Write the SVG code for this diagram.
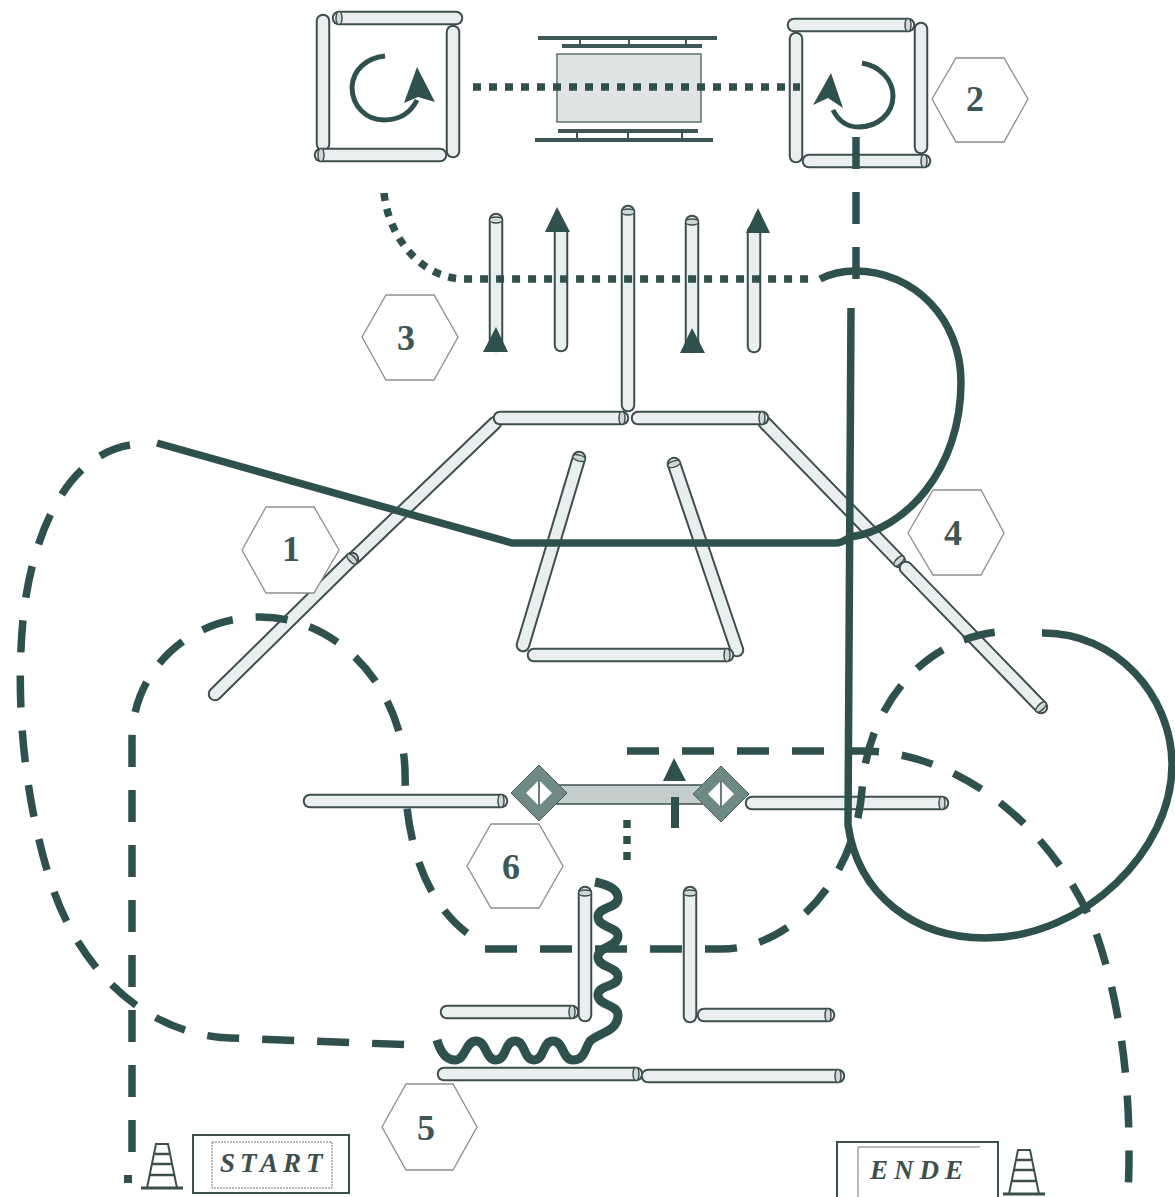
<svg xmlns="http://www.w3.org/2000/svg" width="1175" height="1197" viewBox="0 0 1175 1197">
<style>
.o{stroke:#3c4f4d;stroke-width:14.500;stroke-linecap:round;fill:none}
.i{stroke:#e9efee;stroke-width:10.500;stroke-linecap:round;fill:none;marker-end:url(#cap)}
.c{fill:none;stroke:#2e514e;stroke-width:7.500}
.d{stroke-dasharray:32 23}
.p{stroke-dasharray:8 8}
.a{fill:#2e514e}
.h{fill:#fff;stroke:#8a8f8e;stroke-width:1.300}
.n{font:bold 36px "Liberation Serif",serif;fill:#3c5755;text-anchor:middle}
.l{font:italic bold 27px "Liberation Serif",serif;fill:#3c4f4d}
.k{fill:none;stroke:#3c4f4d;stroke-width:2}
.b{stroke:#3c5755;stroke-width:4;fill:none}
.ar{fill:none;stroke:#2e514e;stroke-width:5}
</style>
<defs>
<marker id="cap" markerUnits="userSpaceOnUse" markerWidth="12" markerHeight="18" refX="6" refY="9" orient="auto" overflow="visible"><ellipse cx="6" cy="9" rx="3" ry="6.500" fill="#cfd8d6" stroke="#3c4f4d" stroke-width="1.500"/></marker>
<g id="cone" class="k"><path stroke-width="3" d="M-21 22H21"/><path d="M-15 22L-6 -22H6L15 22"/><path stroke-width="2.500" d="M-7 -12H7M-10 -2H10M-12 9H12"/></g>
<g id="dia"><path d="M0-28L28 0L0 28L-28 0Z" fill="#6f8a85" stroke="#4a5f5c"/><path d="M0-13L13 0L0 13L-13 0Z" fill="#fff"/><path d="M0-13V13" stroke="#3c4f4d" stroke-width="1.500"/></g>
</defs>
<rect width="1175" height="1197" fill="#fff"/>
<g id="station-a">
<line class="o" x1="323" y1="144" x2="323" y2="21"/><line class="i" style="marker-end:none" x1="323" y1="144" x2="323" y2="21"/>
<line class="o" x1="453" y1="151" x2="453" y2="32"/><line class="i" style="marker-end:none" x1="453" y1="151" x2="453" y2="32"/>
<line class="o" x1="456" y1="18" x2="339" y2="18"/><line class="i" x1="456" y1="18" x2="339" y2="18"/>
<line class="o" x1="440" y1="155" x2="321" y2="155"/><line class="i" x1="440" y1="155" x2="321" y2="155"/>
<path class="ar" d="M385 56C366 58 353 70 352 87C352 106 366 120 384 120C398 120 410 114 417 100"/>
<path class="a" d="M417 67L435 102L418 97L404 103Z"/>
</g>
<g id="station-b">
<line class="o" x1="796" y1="156" x2="796" y2="39"/><line class="i" style="marker-end:none" x1="796" y1="156" x2="796" y2="39"/>
<line class="o" x1="921" y1="147" x2="921" y2="29"/><line class="i" style="marker-end:none" x1="921" y1="147" x2="921" y2="29"/>
<line class="o" x1="794" y1="25" x2="908" y2="25"/><line class="i" x1="794" y1="25" x2="908" y2="25"/>
<line class="o" x1="809" y1="161" x2="924" y2="161"/><line class="i" x1="809" y1="161" x2="924" y2="161"/>
<path class="ar" d="M862 63C880 66 893 80 893 96C893 114 877 127 859 127C847 127 838 120 833 110"/>
<path class="a" d="M831 73L843 108L828 98L813 105Z"/>
</g>
<g id="table">
<rect x="557" y="54" width="144" height="68" fill="#e0e3e3" stroke="#5f6f6d" stroke-width="1.500"/>
<path class="b" d="M538 38H717M562 46H702M558 131H698M535 140H713"/>
<path d="M580 38V46M629 38V46M686 38V46M577 131V140M628 131V140M682 131V140" stroke="#3c5755" stroke-width="2"/>
</g>
<g id="slalom">
<line class="o" x1="496" y1="345" x2="496" y2="220"/><line class="i" x1="496" y1="345" x2="496" y2="220"/>
<line class="o" x1="561" y1="345" x2="561" y2="232"/><line class="i" style="marker-end:none" x1="561" y1="345" x2="561" y2="232"/>
<line class="o" x1="628" y1="405" x2="628" y2="212"/><line class="i" x1="628" y1="405" x2="628" y2="212"/>
<line class="o" x1="692" y1="346" x2="692" y2="222"/><line class="i" x1="692" y1="346" x2="692" y2="222"/>
<line class="o" x1="754" y1="346" x2="754" y2="232"/><line class="i" style="marker-end:none" x1="754" y1="346" x2="754" y2="232"/>
<path class="a" d="M557 207L570 232H545ZM496 327L508 352H483ZM692 328L705 353H680ZM758 208L770 233H746Z"/>
</g>
<g id="frame">
<line class="o" x1="354" y1="558" x2="495" y2="423"/><line class="i" style="marker-end:none" x1="354" y1="558" x2="495" y2="423"/>
<line class="o" x1="215" y1="694" x2="352" y2="559"/><line class="i" x1="215" y1="694" x2="352" y2="559"/>
<line class="o" x1="765" y1="423" x2="899" y2="561"/><line class="i" x1="765" y1="423" x2="899" y2="561"/>
<line class="o" x1="906" y1="568" x2="1041" y2="707"/><line class="i" x1="906" y1="568" x2="1041" y2="707"/>
<line class="o" x1="500" y1="418" x2="622" y2="418"/><line class="i" x1="500" y1="418" x2="622" y2="418"/>
<line class="o" x1="638" y1="418" x2="762" y2="418"/><line class="i" x1="638" y1="418" x2="762" y2="418"/>
<line class="o" x1="523" y1="645" x2="579" y2="458"/><line class="i" x1="523" y1="645" x2="579" y2="458"/>
<line class="o" x1="737" y1="650" x2="674" y2="464"/><line class="i" x1="737" y1="650" x2="674" y2="464"/>
<line class="o" x1="534" y1="655" x2="727" y2="655"/><line class="i" x1="534" y1="655" x2="727" y2="655"/>
</g>
<g id="gate">
<rect x="555" y="785" width="150" height="19" fill="#c3cecc" stroke="#3c4f4d" stroke-width="1.500"/>
<line class="o" x1="310" y1="801" x2="501" y2="801"/><line class="i" x1="310" y1="801" x2="501" y2="801"/>
<line class="o" x1="752" y1="803" x2="942" y2="803"/><line class="i" x1="752" y1="803" x2="942" y2="803"/>
<use href="#dia" x="539" y="793"/><use href="#dia" x="721" y="794"/>
</g>
<g id="chute">
<line class="o" x1="447" y1="1012" x2="572" y2="1012"/><line class="i" x1="447" y1="1012" x2="572" y2="1012"/>
<line class="o" x1="585" y1="1015" x2="585" y2="893"/><line class="i" x1="585" y1="1015" x2="585" y2="893"/>
<line class="o" x1="690" y1="1016" x2="690" y2="893"/><line class="i" x1="690" y1="1016" x2="690" y2="893"/>
<line class="o" x1="704" y1="1015" x2="828" y2="1015"/><line class="i" x1="704" y1="1015" x2="828" y2="1015"/>
<line class="o" x1="444" y1="1074" x2="636" y2="1074"/><line class="i" x1="444" y1="1074" x2="636" y2="1074"/>
<line class="o" x1="648" y1="1076" x2="838" y2="1076"/><line class="i" x1="648" y1="1076" x2="838" y2="1076"/>
</g>
<g id="connectors">
<path class="c p" d="M384 193C388 235 420 279 465 279H815"/>
<path class="c p" d="M473 87H800"/>
<path class="c p" d="M627 820V862"/>
<path class="c d" d="M856 137V300"/>
<path class="c" d="M820 279C832 273 845 271 855 271C915 271 961 320 961 382C961 470 905 530 850 537C845 540 842 543 836 543H512L157 443"/>
<path class="c" d="M851 308L848 825C858 895 915 938 985 938C1085 938 1172 850 1172 765C1172 695 1115 632 1042 633"/>
<path class="c d" d="M130 445C70 455 35 525 24 610C15 690 22 790 50 880C80 975 150 1035 230 1038L415 1045"/>
<path class="c d" d="M485 949H720C790 950 855 880 862 790C868 700 930 632 1012 631"/>
<path class="c d" d="M467 933C430 905 405 850 405 770C402 690 340 617 260 617C190 617 132 670 132 740V1152"/>
<path class="c d" d="M627 751H860C960 750 1055 830 1095 930C1120 1000 1133 1090 1128 1195"/>
<rect class="a" x="124" y="1175" width="8" height="8"/>
<path d="M437 1040C441 1054 447 1060 455 1060C466 1060 465 1041 476 1041C487 1041 485 1060 496 1060C507 1060 504 1041 515 1041C526 1041 523 1060 534 1060C545 1060 542 1041 553 1041C564 1041 562 1060 573 1060C585 1060 585 1048 590 1041C598 1033 618 1032 618 1015C618 1004 598 1006 598 995C598 984 618 988 618 977C618 966 598 968 598 957C598 946 618 947 618 936C618 926 598 928 598 917C598 906 618 909 618 898C618 888 605 884 595 882" fill="none" stroke="#2e514e" stroke-width="9"/>
<path class="a" d="M674 758L686 781H663Z"/>
<path d="M675 797V828" stroke="#2e514e" stroke-width="8"/>
</g>
<g id="hex-2"><polygon class="h" points="932,99 956,58 1004,58 1028,99 1004,142 956,142"/><text class="n" x="975" y="111">2</text></g>
<g id="hex-3"><polygon class="h" points="362,337 386,295 434,295 458,337 434,380 386,380"/><text class="n" x="406" y="350">3</text></g>
<g id="hex-1"><polygon class="h" points="242,550 266,507 314,507 339,550 314,593 266,593"/><text class="n" x="291" y="561">1</text></g>
<g id="hex-4"><polygon class="h" points="908,533 933,490 981,490 1004,533 981,575 933,575"/><text class="n" x="953" y="545">4</text></g>
<g id="hex-6"><polygon class="h" points="467,866 491,824 539,824 563,866 539,908 491,908"/><text class="n" x="511" y="879">6</text></g>
<g id="hex-5"><polygon class="h" points="382,1127 406,1084 453,1084 477,1127 453,1170 406,1170"/><text class="n" x="426" y="1140">5</text></g>
<g id="start"><rect x="193" y="1135" width="156" height="58" class="k"/><rect x="212" y="1142" width="120" height="46" fill="none" stroke="#777" stroke-dasharray="2 1"/><text class="l" x="220" y="1172" letter-spacing="5">START</text><use href="#cone" x="162" y="1166"/></g>
<g id="ende"><path class="k" d="M837 1197V1142H998V1197"/><path d="M858 1197V1147H980" fill="none" stroke="#777"/><text class="l" x="870" y="1179" letter-spacing="6">ENDE</text><use href="#cone" x="1024" y="1172"/></g>
</svg>
